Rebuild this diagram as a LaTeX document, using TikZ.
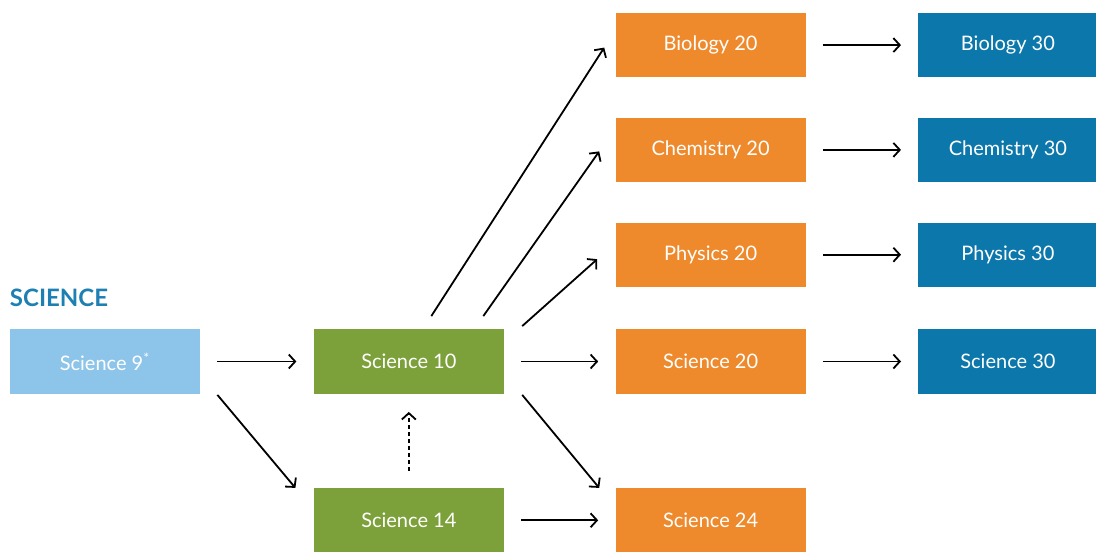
\documentclass[tikz,border=0pt]{standalone}
\usepackage{fontspec}
\setmainfont{Lato}
\usetikzlibrary{positioning,arrows.meta,calc}
\definecolor{SciLightBlue}{RGB}{141,196,234}
\definecolor{SciGreen}{RGB}{124,161,58}
\definecolor{SciOrange}{RGB}{238,138,43}
\definecolor{SciBlue}{RGB}{12,119,170}
\definecolor{SciHead}{RGB}{30,128,178}

\begin{document}
\begin{tikzpicture}[
box/.style={rectangle,minimum width=95pt,minimum height=32pt,inner sep=0pt,
text=white,font=\fontsize{10}{12}\selectfont},
grade9/.style={box,fill=SciLightBlue},
grade10/.style={box,fill=SciGreen},
grade20/.style={box,fill=SciOrange},
grade30/.style={box,fill=SciBlue,minimum width=89.5pt},
arrow/.style={-{Straight Barb[length=3.2pt,width=7pt]},line width=0.9pt},
flat/.style={arrow,shorten <=8.5pt,shorten >=8.5pt}
]
\useasboundingbox (0,0) rectangle (548pt,-277.5pt);
\node[grade9] (sci9) at (52.5pt,-180.75pt) {Science 9\textsuperscript{*}};
\node[anchor=base west,inner sep=0pt,text=SciHead,font=\fontsize{12}{14}\bfseries\selectfont]
  (head) at ([yshift=11.5pt]sci9.north west) {SCIENCE};
\node[grade10,right=56.5pt of sci9] (sci10) {Science 10};
\node[grade10,below=47pt of sci10] (sci14) {Science 14};
\node[grade20,right=55.5pt of sci10] (sci20) {Science 20};
\node[grade20,above=21pt of sci20] (phy20) {Physics 20};
\node[grade20,above=20pt of phy20] (chem20) {Chemistry 20};
\node[grade20,above=20pt of chem20] (bio20) {Biology 20};
\node[grade20,right=55.5pt of sci14] (sci24) {Science 24};
\node[grade30,right=56pt of bio20] (bio30) {Biology 30};
\node[grade30,right=56pt of chem20] (chem30) {Chemistry 30};
\node[grade30,right=56pt of phy20] (phy30) {Physics 30};
\node[grade30,right=56pt of sci20] (sci30) {Science 30};
% from grade 9
\draw[flat] (sci9)--(sci10);
\draw[arrow] ($(sci9.south east)+(8.5pt,-0.5pt)$)--($(sci14.north west)+(-9pt,0pt)$);
\draw[arrow,dash pattern=on 2pt off 1.5pt,shorten <=8.5pt,shorten >=9pt] (sci14)--(sci10);
% from grade 10
\draw[arrow] ($(sci10.north)+(11.25pt,6.5pt)$)--($(bio20.west)+(-5.5pt,-1.25pt)$);
\draw[arrow] ($(sci10.north)+(37.25pt,6.5pt)$)--($(chem20.west)+(-8pt,-0.75pt)$);
\draw[arrow] ($(sci10.north east)+(9pt,1.5pt)$)--($(phy20.west)+(-9pt,-2.25pt)$);
\draw[flat] (sci10)--(sci20);
\draw[arrow] ($(sci10.south east)+(9pt,-0.5pt)$)--($(sci24.north west)+(-8pt,0pt)$);
\draw[flat] (sci14)--(sci24);
% to grade 30
\draw[flat] (bio20)--(bio30); \draw[flat] (chem20)--(chem30);
\draw[flat] (phy20)--(phy30); \draw[flat] (sci20)--(sci30);
\end{tikzpicture}
\end{document}
